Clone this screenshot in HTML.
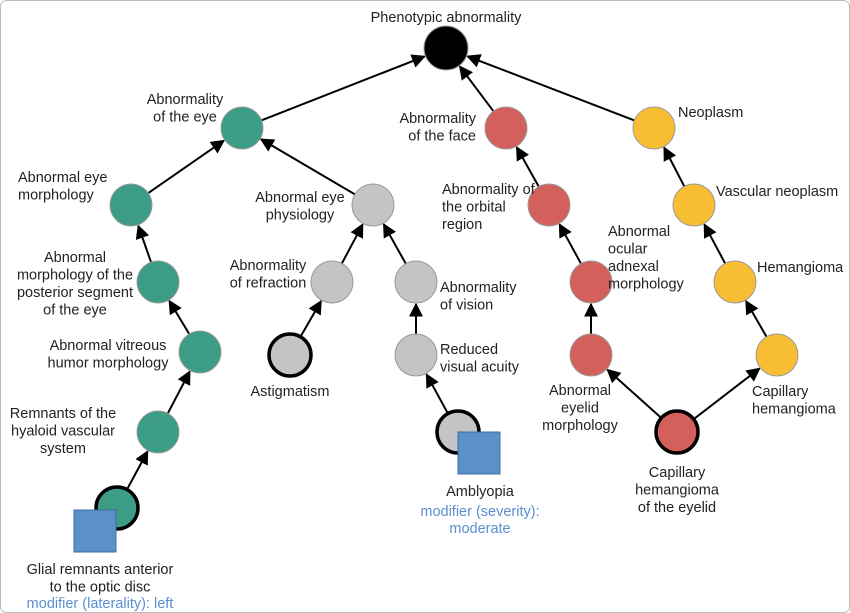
<!DOCTYPE html>
<html><head><meta charset="utf-8"><style>
html,body{margin:0;padding:0;background:#fff;}
svg{display:block;font-family:"Liberation Sans",sans-serif;}
</style></head><body>
<svg id="g" width="850" height="613" viewBox="0 0 850 613">
<defs><marker id="ar" viewBox="0 0 10 10" refX="9" refY="5" markerWidth="7" markerHeight="7" orient="auto"><path d="M0,0 L10,5 L0,10 z" fill="#000"/></marker></defs>
<rect x="0.5" y="0.5" width="849" height="612" rx="6" fill="none" stroke="#bbb"/>
</svg>
<script>
const ids=["root","eye","eyemorph","post","vit","hyal","glial","phys","refr","vis","astig","rva","ambl","face","orb","adn","lid","chel","neo","vneo","hem","caph"];
const xs=[446,242,131,158,200,158,117,373,332,416,290,416,458,506,549,591,591,677,654,694,735,777];
const ys=[48,128,205,282,352,432,508,205,282,282,355,355,432,128,205,282,355,432,128,205,282,355];
const groups=["k","t","t","t","t","t","t","g","g","g","g","g","g","r","r","r","r","r","y","y","y","y"];
const bold=[0,0,0,0,0,0,1,0,0,0,1,0,1,0,0,0,0,1,0,0,0,0];
const edges=[["eye","root"],["face","root"],["neo","root"],["eyemorph","eye"],["phys","eye"],["post","eyemorph"],["vit","post"],["hyal","vit"],["glial","hyal"],["refr","phys"],["vis","phys"],["astig","refr"],["rva","vis"],["ambl","rva"],["orb","face"],["adn","orb"],["lid","adn"],["chel","lid"],["chel","caph"],["vneo","neo"],["hem","vneo"],["caph","hem"]];
const labels=[
["Phenotypic abnormality",446,22,"middle",["Phenotypic abnormality"]],
["eye",185,104,"middle",["Abnormality","of the eye"]],
["eyemorph",18,182,"start",["Abnormal eye","morphology"]],
["post",75,262,"middle",["Abnormal","morphology of the","posterior segment","of the eye"]],
["vit",108,350,"middle",["Abnormal vitreous","humor morphology"]],
["hyal",63,418,"middle",["Remnants of the","hyaloid vascular","system"]],
["glial",100,574,"middle",["Glial remnants anterior","to the optic disc"]],
["phys",300,202,"middle",["Abnormal eye","physiology"]],
["refr",268,270,"middle",["Abnormality","of refraction"]],
["vis",440,292,"start",["Abnormality","of vision"]],
["astig",290,396,"middle",["Astigmatism"]],
["rva",440,354,"start",["Reduced","visual acuity"]],
["ambl",480,496,"middle",["Amblyopia"]],
["face",476,123,"end",["Abnormality","of the face"]],
["orb",442,194,"start",["Abnormality of","the orbital","region"]],
["adn",608,236,"start",["Abnormal","ocular","adnexal","morphology"]],
["lid",580,395,"middle",["Abnormal","eyelid","morphology"]],
["chel",677,477,"middle",["Capillary","hemangioma","of the eyelid"]],
["neo",678,117,"start",["Neoplasm"]],
["vneo",716,196,"start",["Vascular neoplasm"]],
["hem",757,272,"start",["Hemangioma"]],
["caph",752,396,"start",["Capillary","hemangioma"]]];
const mods=[["modifier (laterality): left",100,608],["modifier (severity):",480,516],["moderate",480,533]];
const fills={k:"#000",t:"#3c9c86",g:"#c4c4c4",r:"#d3605a",y:"#f7be33"};
const R=21,NS="http://www.w3.org/2000/svg",svg=document.getElementById("g");
function mk(t,a){const e=document.createElementNS(NS,t);for(const k in a)e.setAttribute(k,a[k]);svg.appendChild(e);return e;}
edges.forEach(([a,b])=>{const i=ids.indexOf(a),j=ids.indexOf(b);const dx=xs[j]-xs[i],dy=ys[j]-ys[i],d=Math.hypot(dx,dy);const rj=j===0?22:R;
const l=mk("line",{x1:xs[i]+dx/d*R,y1:ys[i]+dy/d*R,x2:xs[j]-dx/d*(rj+1),y2:ys[j]-dy/d*(rj+1),stroke:"#000","stroke-width":2,"marker-end":"url(#ar)"});

});
ids.forEach((id,i)=>{const c=mk("circle",{cx:xs[i],cy:ys[i],r:i===0?22:R,fill:fills[groups[i]],stroke:bold[i]?"#000":"#999","stroke-width":bold[i]?3.5:1});

});
[["glial",-43,2],["ambl",0,0]].forEach(([id,ox,oy])=>{const i=ids.indexOf(id);const s=mk("rect",{x:xs[i]+ox,y:ys[i]+oy,width:42,height:42,fill:"#5b90c8",stroke:"#3d6e9e","stroke-width":1});

});
labels.forEach(([id,x,y,anc,lines])=>{const t=mk("text",{x:x,y:y,"text-anchor":anc,"font-size":14.5,fill:"#222"});


lines.forEach((s,k)=>{const ts=document.createElementNS(NS,"tspan");ts.setAttribute("x",x);ts.setAttribute("dy",k?17.5:0);ts.textContent=s;t.appendChild(ts);});});
mods.forEach(([s,x,y])=>{const t=mk("text",{x:x,y:y,"text-anchor":"middle","font-size":14.5,fill:"#5b8fd0"});t.textContent=s;

});
</script>
</body></html>
